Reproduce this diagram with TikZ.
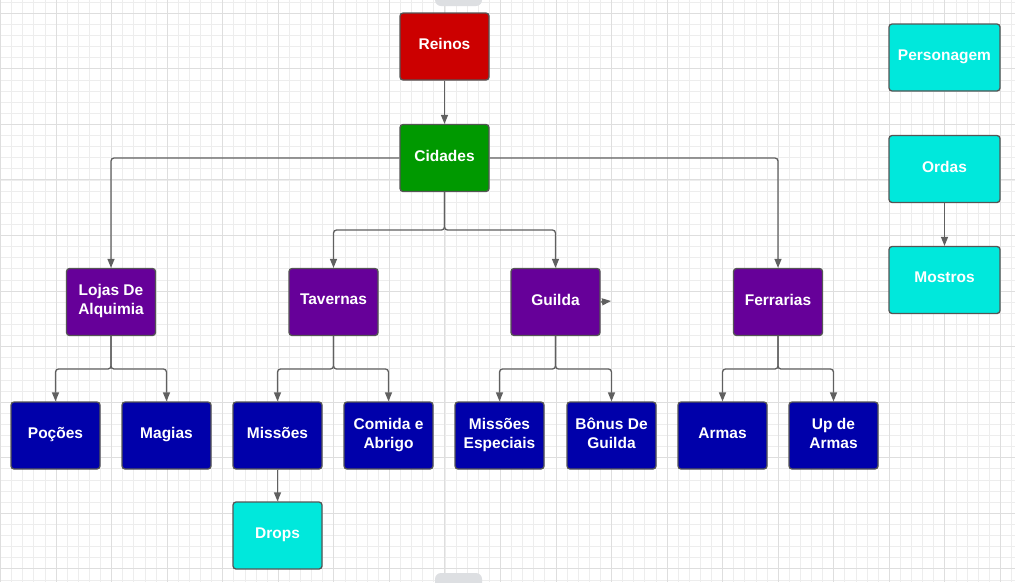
\documentclass[tikz,border=0pt]{standalone}
\usepackage{fontspec}
\setmainfont{Liberation Sans}
\usepackage{xcolor}
\usetikzlibrary{arrows.meta,positioning,calc}

\definecolor{reinored}{HTML}{CC0000}
\definecolor{cidgreen}{HTML}{009900}
\definecolor{purp}{HTML}{660099}
\definecolor{navy}{HTML}{0000AA}
\definecolor{aqua}{HTML}{00E8DC}
\definecolor{edge}{HTML}{555555}
\definecolor{wire}{HTML}{606060}
\definecolor{handle}{HTML}{DDDFE2}

\begin{document}
\begin{tikzpicture}[
    x=1pt, y=-1pt,
    box/.style={rectangle, rounded corners=3pt, draw=edge, line width=1.3pt,
        minimum width=89pt, minimum height=67pt, align=center, text=white,
        font=\fontsize{15.5}{19}\selectfont\bfseries, inner sep=2pt, text depth=5pt},
    widebox/.style={box, minimum width=111pt},
    flow/.style={-{Triangle[length=9pt,width=7pt]}, draw=wire, line width=1.3pt, rounded corners=3pt},
    minorgrid/.style={draw=black!7, line width=0.8pt},
    majorgrid/.style={draw=black!13, line width=1pt}
]
    \useasboundingbox (0,0) rectangle (1015,582);
    \clip (0,0) rectangle (1015,582);

    % Background grid
    \fill[white] (0,0) rectangle (1015,582);
    \foreach \i in {0,...,91}
        \draw[minorgrid] ({0.5+\i*11.11},0) -- ({0.5+\i*11.11},582);
    \foreach \j in {0,...,52}
        \draw[minorgrid] (0,{2.2+\j*11.11}) -- (1015,{2.2+\j*11.11});
    \foreach \i in {0,...,18}
        \draw[majorgrid] ({0.5+\i*55.55},0) -- ({0.5+\i*55.55},582);
    \foreach \j in {0,...,10}
        \draw[majorgrid] (0,{13.3+\j*55.55}) -- (1015,{13.3+\j*55.55});

    % Page handles
    \fill[handle, rounded corners=6pt] (435,-8) rectangle (482,6);
    \fill[handle, rounded corners=6pt] (435,573) rectangle (482,590);

    % Top levels
    \node[box, fill=reinored] (reinos) at (444.5,46.5) {Reinos};
    \node[box, fill=cidgreen] (cidades) at (444.5,158) {Cidades};

    % Places
    \node[box, fill=purp] (lojas) at (111,302) {Lojas De\\Alquimia};
    \node[box, fill=purp] (tavernas) at (333.5,302) {Tavernas};
    \node[box, fill=purp] (guilda) at (555.5,302) {Guilda};
    \node[box, fill=purp] (ferrarias) at (778,302) {Ferrarias};

    % Services
    \node[box, fill=navy] (pocoes) at (55.5,435.5) {Poções};
    \node[box, fill=navy] (magias) at (166.5,435.5) {Magias};
    \node[box, fill=navy] (missoes) at (277.5,435.5) {Missões};
    \node[box, fill=navy] (comida) at (388.5,435.5) {Comida e\\Abrigo};
    \node[box, fill=navy] (especiais) at (499.5,435.5) {Missões\\Especiais};
    \node[box, fill=navy] (bonus) at (611.5,435.5) {Bônus De\\Guilda};
    \node[box, fill=navy] (armas) at (722.5,435.5) {Armas};
    \node[box, fill=navy] (uparmas) at (833.5,435.5) {Up de\\Armas};
    \node[box, fill=aqua] (drops) at (277.5,535.5) {Drops};

    % Side column
    \node[widebox, fill=aqua] (personagem) at (944.5,57.5) {Personagem};
    \node[widebox, fill=aqua] (ordas) at (944.5,169) {Ordas};
    \node[widebox, fill=aqua] (mostros) at (944.5,280) {Mostros};

    % Split points
    \coordinate (cidsplit) at (444.5,230);
    \coordinate (lojasplit) at (111,369);
    \coordinate (tavsplit) at (333.5,369);
    \coordinate (guildsplit) at (555.5,369);
    \coordinate (ferrsplit) at (778,369);
    \coordinate (guildstub) at (611,301);

    % Connectors
    \draw[flow] (reinos) -- (cidades);
    \draw[flow] (cidades.west) -| (lojas.north);
    \draw[flow] (cidades.east) -| (ferrarias.north);
    \draw[flow] (cidades.south) -- (cidsplit) -| (tavernas.north);
    \draw[flow] (cidades.south) -- (cidsplit) -| (guilda.north);
    \draw[flow] (lojas.south) -- (lojasplit) -| (pocoes.north);
    \draw[flow] (lojas.south) -- (lojasplit) -| (magias.north);
    \draw[flow] (tavernas.south) -- (tavsplit) -| (missoes.north);
    \draw[flow] (tavernas.south) -- (tavsplit) -| (comida.north);
    \draw[flow] (guilda.south) -- (guildsplit) -| (especiais.north);
    \draw[flow] (guilda.south) -- (guildsplit) -| (bonus.north);
    \draw[flow] (ferrarias.south) -- (ferrsplit) -| (armas.north);
    \draw[flow] (ferrarias.south) -- (ferrsplit) -| (uparmas.north);
    \draw[flow] (missoes) -- (drops);
    \draw[flow] (ordas) -- (mostros);
    \draw[flow] (guilda.east) -- (guildstub);
\end{tikzpicture}
\end{document}
